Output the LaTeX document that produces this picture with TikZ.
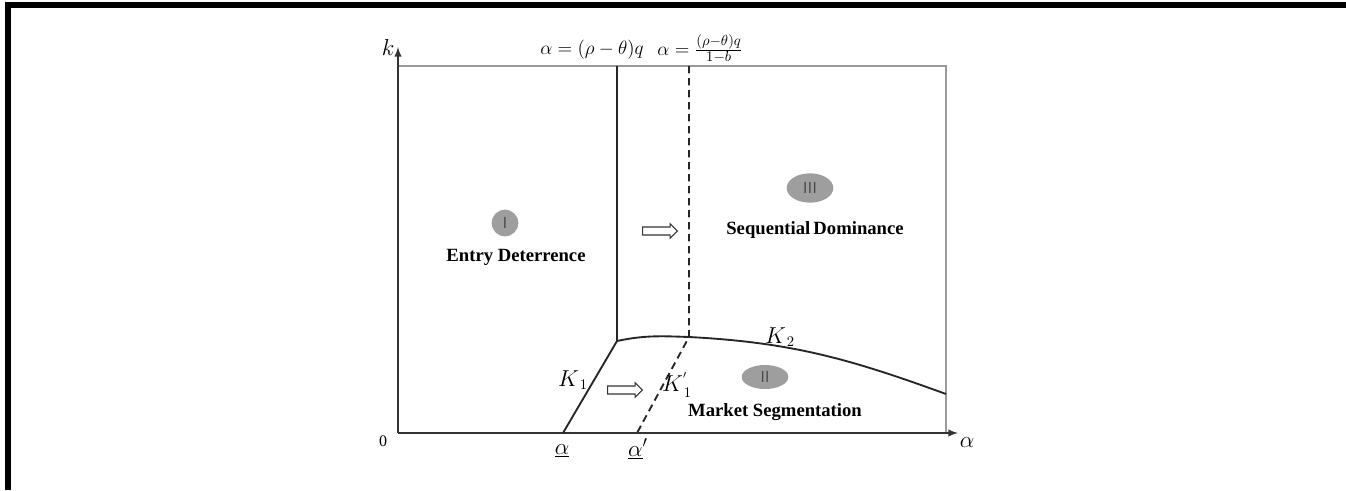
\documentclass[tikz,border=0pt]{standalone}
\usepackage{fontspec}
\setmainfont{Liberation Serif}
\usetikzlibrary{shapes.arrows,shapes.geometric}
\begin{document}
\begin{tikzpicture}[x=0.75pt,y=-0.75pt,
  axis/.style={line width=1.5pt,black!80},
  frameline/.style={line width=1.2pt,black!40},
  curve/.style={line width=1.4pt,black!85},
  dashline/.style={line width=1.4pt,black!85,dash pattern=on 5.5pt off 3.5pt},
  badge/.style={ellipse,fill=black!38,inner sep=0pt,font=\fontsize{12}{12}\selectfont\sffamily\color{black!72}},
  region/.style={font=\fontsize{14}{16}\selectfont\bfseries},
  hollow/.style={single arrow,draw=black!80,fill=white,line width=0.8pt,minimum height=26pt,inner xsep=0pt,inner ysep=2.6pt,single arrow head extend=2.4pt,single arrow head indent=0pt},
  mlabel/.style={font=\fontsize{14}{16}\selectfont,inner sep=0pt}]
\useasboundingbox (0,0) rectangle (1346,490);
\fill[black] (5,2) rectangle (1346,8);
\fill[black] (5,2) rectangle (11,490);
% corners
\coordinate (O) at (398,433);
\coordinate (Ytop) at (398,47);
\coordinate (Xend) at (958,433);
\coordinate (TL) at (398,66);
\coordinate (TR) at (946,66);
\coordinate (BR) at (946,433);
\coordinate (S1) at (617,66);
\coordinate (K) at (617,341);
\coordinate (S2) at (689,66);
\coordinate (D) at (689,337);
\coordinate (E) at (946,394);
\coordinate (A1) at (563,433);
\coordinate (A2) at (637,433);
% grey frame
\draw[frameline] (TL) -- (TR) -- (BR);
% axes
\draw[axis,-latex] (O) -- (Ytop);
\draw[axis,-latex] (O) -- (Xend);
% curves
\draw[curve] (S1) -- (K);
\draw[curve] (A1) -- (K);
\draw[curve] (K) to[out=12,in=178] (D) to[out=-3,in=160] (E);
\draw[dashline] (S2) -- (D) -- (A2);
% axis labels
\node[mlabel,font=\fontsize{17}{18}\selectfont] (klab) at (388,47) {$k$};
\node[mlabel,font=\fontsize{17}{18}\selectfont] (alab) at (967,443) {$\alpha$};
\node[mlabel] (zero) at (383,441) {\fontsize{12}{14}\selectfont 0};
\node[mlabel,font=\fontsize{17}{18}\selectfont] (au) at (562,451) {$\underline{\alpha}$};
\node[mlabel,font=\fontsize{17}{18}\selectfont] (ap) at (638,449) {$\underline{\alpha}'$};
\node[mlabel] (l1) at (592,50) {$\alpha=(\rho-\theta)q$};
\node[mlabel,font=\fontsize{15.5}{17}\selectfont] (l2) at (700,49) {$\alpha=\frac{(\rho-\theta)q}{1-b}$};
% K labels
\node[mlabel,font=\fontsize{16}{18}\selectfont] (k1) at (573,380) {$K_{\,1}$};
\node[mlabel,font=\fontsize{16}{18}\selectfont] (k1p) at (677,385) {$K_{\,1}^{'}$};
\node[mlabel,font=\fontsize{16}{18}\selectfont] (k2) at (780,337) {$K_{\,2}$};
% regions
\node[badge,minimum width=20pt,minimum height=20pt] (b1) at (505,223) {I};
\node[region] (t1) at (516,257) {Entry Deterrence};
\node[badge,minimum width=35pt,minimum height=22pt] (b3) at (810,188) {III};
\node[region] (t3) at (815,230) {Sequential\,Dominance};
\node[badge,minimum width=35pt,minimum height=18pt] (b2) at (765,377) {II};
\node[region] (t2) at (775,412) {Market Segmentation};
% hollow arrows
\node[hollow] (h1) at (658,231) {};
\node[hollow] (h2) at (623,390) {};
\end{tikzpicture}
\end{document}
